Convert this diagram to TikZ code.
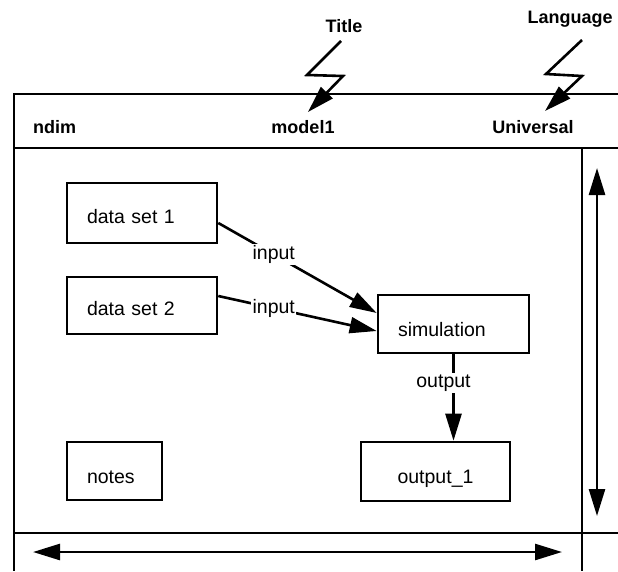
\documentclass[tikz,border=0pt]{standalone}
\usepackage{fontspec}
\setmainfont{Liberation Sans}
\usetikzlibrary{arrows.meta,calc}
\begin{document}
\begin{tikzpicture}[x=1pt,y=-1pt,
  lw/.style={line width=2.6pt},
  tip/.style={-{Triangle[length=27pt,width=16pt]}},
  dtip/.style={{Triangle[length=27pt,width=16pt]}-{Triangle[length=27pt,width=16pt]}},
  box/.style={draw, lw, inner sep=0pt, font=\fontsize{19.5}{21}\selectfont, text depth=0pt},
  hdr/.style={font=\bfseries\fontsize{18}{20}\selectfont, inner sep=0pt},
  lab/.style={font=\fontsize{19.5}{21}\selectfont, fill=white, inner sep=1.5pt}]
\useasboundingbox (0,0) rectangle (618,571);
% frame
\draw[lw] (618,94) -- (14,94) -- (14,571);
\draw[lw] (14,148) -- (618,148);
\draw[lw] (14,533) -- (618,533);
\draw[lw] (582,148) -- (582,571);
% dimension arrows
\coordinate (h1) at (33,552);
\coordinate (h2) at (562,552);
\coordinate (v1) at (597,168);
\coordinate (v2) at (597,516);
\draw[lw,dtip] (h1) -- (h2);
\draw[lw,dtip] (v1) -- (v2);
% header texts
\node[hdr, anchor=base west] (ndim) at (33,133) {ndim};
\node[hdr, anchor=base] (model) at (303,133) {model1};
\node[hdr, anchor=base] (univ) at (533,133) {Universal};
\node[hdr, anchor=base] (title) at (344,32) {Title};
\node[hdr, anchor=base] (lang) at (570,23) {Language};
% bolts
\coordinate (tb1) at (341,41);
\coordinate (tb2) at (307,75);
\coordinate (tb3) at (343,76);
\coordinate (tb4) at (308,112);
\draw[lw,tip] (tb1) -- (tb2) -- (tb3) -- (tb4);
\coordinate (lb1) at (582,40);
\coordinate (lb2) at (546,74);
\coordinate (lb3) at (582,76);
\coordinate (lb4) at (545,111);
\draw[lw,tip] (lb1) -- (lb2) -- (lb3) -- (lb4);
% boxes
\node[box, minimum width=150, minimum height=60, text width=110pt, align=left, text height=20pt] (ds1) at (142,213) {data set 1};
\node[box, minimum width=150, minimum height=57, text width=110pt, align=left, text height=20pt] (ds2) at (142,305.5) {data set 2};
\node[box, minimum width=151, minimum height=58, text width=111pt, align=left, text height=24pt] (sim) at (453.5,324) {simulation};
\node[box, minimum width=95, minimum height=58, text width=55pt, align=left, text height=25pt] (notes) at (114.5,471) {notes};
\node[box, minimum width=149, minimum height=59, align=center, text height=23pt] (out) at (435.5,471.5) {output\_1};
% connectors
\draw[lw,tip] ($(ds1.east)+(0,10)$) -- node[lab, pos=0.35] {input} ($(sim.west)+(0,-11)$);
\draw[lw,tip] ($(ds2.east)+(0,-9.5)$) -- node[lab, pos=0.35] {input} ($(sim.west)+(0,7)$);
\draw[lw,tip] (sim.south) -- node[lab, pos=0.33, xshift=-10pt] {output} (sim.south |- out.north);
\end{tikzpicture}
\end{document}
